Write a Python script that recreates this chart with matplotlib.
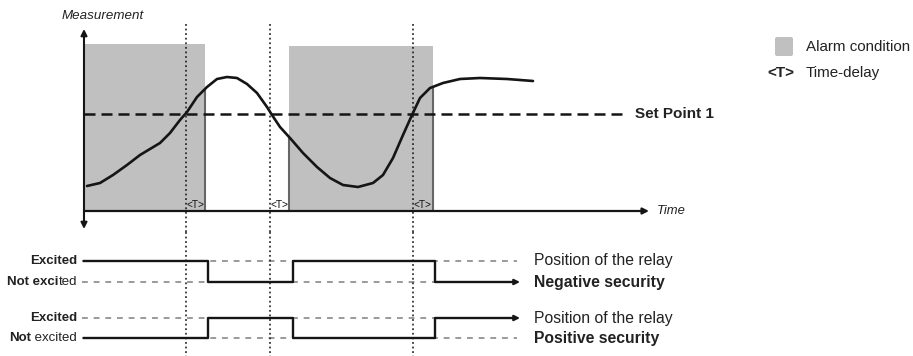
import numpy as np
import matplotlib
matplotlib.use('Agg')
import matplotlib.pyplot as plt
from matplotlib.patches import FancyBboxPatch

plt.rcParams['font.family'] = ['Liberation Sans', 'DejaVu Sans']

# measurement curve (time, value), value 0 = time axis
curve_t = [3, 16, 29, 43, 56, 66, 76, 86, 96, 103, 113, 123, 133, 143, 153, 163, 173, 183,
           188, 196, 206, 219, 233, 246, 259, 274, 289, 299, 309, 319, 328, 336, 346, 359,
           376, 396, 423, 449]
curve_m = [25, 28, 36, 46, 56, 62, 68, 78, 91, 99, 114, 124, 132, 134, 133, 127, 118, 104,
           96, 84, 73, 58, 44, 33, 26, 24, 28, 36, 53, 76, 96, 113, 123, 128, 132, 133, 132, 130]
set_point = 97
crossings = [102, 186, 329]
delay = 19.5
alarm_start = [0, 205]
alarm_end = [121, 349]
alarm_top = [167, 165]

# relay
switch_t = [0, 124, 209, 351]
t_end = 436
negative_state = [1, 0, 1, 0]
positive_state = [0, 1, 0, 1]

BLACK = '#151515'
GREY = '#c0c0c0'
TXT = '#222222'

fig = plt.figure(figsize=(9.13, 3.56), dpi=100)
ax = fig.add_axes([0, 124 / 356, 1, 232 / 356])
ax.set_xlim(-84, 829)
ax.set_ylim(-21, 211)
ax.axis('off')

bx = fig.add_axes([0, 0, 1, 124 / 356])
bx.set_xlim(-84, 829)
bx.set_ylim(0, 124)
bx.axis('off')

# alarm condition boxes
ax.bar(alarm_start, alarm_top, width=np.subtract(alarm_end, alarm_start), align='edge',
       color=GREY, zorder=1)
for e in [alarm_end[0], alarm_start[1], alarm_end[1]]:
    ax.vlines(e, 0, np.interp(e, curve_t, curve_m), color='#666666', lw=1.5, zorder=2)

# dotted verticals at set point crossings
for c in crossings:
    ax.plot([c, c], [187, -21], color=BLACK, lw=1.1, ls=(0, (1.2, 1.8)), zorder=3)
    bx.plot([c, c], [124, 0], color=BLACK, lw=1.1, ls=(0, (1.2, 1.8)), zorder=3)
    ax.text(c + delay / 2, 6, '<T>', ha='center', va='center', fontsize=7.3, color='#111111',
            zorder=4)

# set point
ax.plot([0, 543], [set_point, set_point], color=BLACK, lw=1.8, dashes=(4.4, 2.4), zorder=3)
ax.text(551, set_point, 'Set Point 1', ha='left', va='center', fontsize=11,
        fontweight='bold', color=TXT)

# curve
ax.plot(curve_t, curve_m, color=BLACK, lw=1.9, solid_capstyle='round',
        solid_joinstyle='round', zorder=4)

# axes arrows
ax.annotate('', xy=(0, 182), xytext=(0, -18),
            arrowprops=dict(arrowstyle='<|-|>', lw=1.5, color=BLACK, mutation_scale=9,
                            shrinkA=0, shrinkB=0), zorder=5)
ax.annotate('', xy=(565, 0), xytext=(0, 0),
            arrowprops=dict(arrowstyle='-|>', lw=1.6, color=BLACK, mutation_scale=9,
                            shrinkA=0, shrinkB=0), zorder=5)
ax.text(19, 195, 'Measurement', ha='center', va='center', fontsize=9.6, style='italic',
        color=TXT)
ax.text(573, 0, 'Time', ha='left', va='center', fontsize=9.4, style='italic', color=TXT)

# legend
ax.add_patch(FancyBboxPatch((691, 155), 18, 19, boxstyle='round,pad=0,rounding_size=2',
                            color=GREY, lw=0))
ax.text(722, 164, 'Alarm condition', ha='left', va='center', fontsize=10.9, color=TXT)
ax.text(697, 138, '<T>', ha='center', va='center', fontsize=11, fontweight='bold',
        color=TXT)
ax.text(722, 138, 'Time-delay', ha='left', va='center', fontsize=10.9, color=TXT)

# relay diagrams
rows = [(95, 74, negative_state, 'Negative security'),
        (38, 18, positive_state, 'Positive security')]
for hi, lo, states, name in rows:
    for lev in (hi, lo):
        bx.plot([-2, 433], [lev, lev], color='#9a9a9a', lw=1.4, dashes=(3, 3), zorder=2)
    ys = [hi if s else lo for s in states]
    bx.plot(switch_t + [t_end - 6], ys + [ys[-1]], drawstyle='steps-post', color=BLACK,
            lw=1.7, zorder=3)
    bx.annotate('', xy=(t_end, ys[-1]), xytext=(t_end - 8, ys[-1]),
                arrowprops=dict(arrowstyle='-|>', lw=1.5, color=BLACK, mutation_scale=8,
                                shrinkA=0, shrinkB=0))
    bx.text(450, hi, 'Position of the relay', ha='left', va='center', fontsize=11.3,
            color=TXT)
    bx.text(450, lo, name, ha='left', va='center', fontsize=11.3, fontweight='bold',
            color=TXT)

lab = dict(ha='right', va='center', fontsize=9.5, color=TXT)
bx.text(-7, 95, 'Excited', fontweight='bold', **lab)
t1 = bx.text(-7, 74, 'ted', **lab)
bx.annotate('Not exci', xy=(0, 0.5), xycoords=t1, fontweight='bold', **lab)
bx.text(-7, 38, 'Excited', fontweight='bold', **lab)
t2 = bx.text(-7, 18, ' excited', **lab)
bx.annotate('Not', xy=(0, 0.5), xycoords=t2, fontweight='bold', **lab)

fig.savefig('out.png', dpi=100)
